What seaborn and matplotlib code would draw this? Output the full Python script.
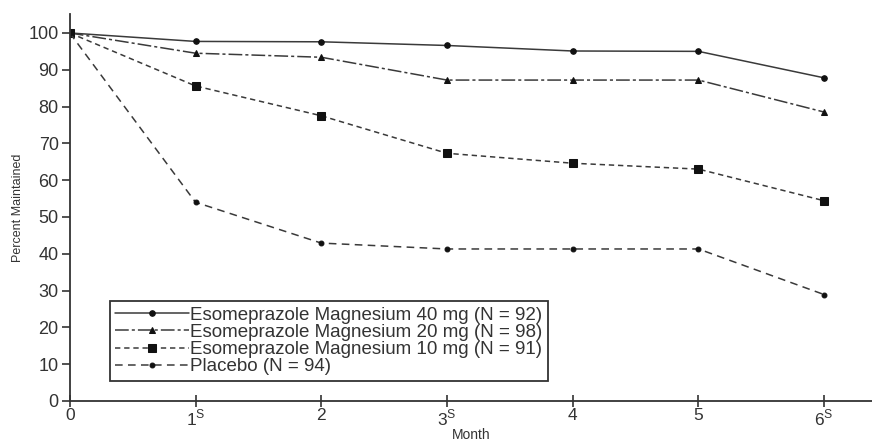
import pandas as pd
import matplotlib.pyplot as plt
import numpy as np
import seaborn as sns

months = [0, 1, 2, 3, 4, 5, 6]
tick_labels = ['0', r'1$^{\mathsf{S}}$', '2', r'3$^{\mathsf{S}}$', '4', '5', r'6$^{\mathsf{S}}$']

esom40 = [100, 97.7, 97.6, 96.6, 95.1, 95.0, 87.8]
esom20 = [100, 94.5, 93.4, 87.2, 87.2, 87.2, 78.5]
esom10 = [100, 85.6, 77.5, 67.3, 64.6, 63.0, 54.4]
placebo = [100, 54.0, 42.9, 41.3, 41.3, 41.3, 28.9]

labels = ['Esomeprazole Magnesium 40 mg (N = 92)',
          'Esomeprazole Magnesium 20 mg (N = 98)',
          'Esomeprazole Magnesium 10 mg (N = 91)',
          'Placebo (N = 94)']

sns.set_style('ticks')
plt.rcParams['font.family'] = ['Liberation Sans', 'DejaVu Sans']
plt.rcParams['mathtext.fontset'] = 'custom'
plt.rcParams['mathtext.sf'] = 'Liberation Sans'

fig = plt.figure(figsize=(8.72, 4.46), dpi=100)
ax = fig.add_axes([0.080, 0.101, 0.92, 0.868])

styles = [
    (esom40, '-', 'o', 4),
    (esom20, (0, (9, 2, 2, 2)), '^', 4.5),
    (esom10, (0, (3.5, 2.5)), 's', 6),
    (placebo, (0, (5, 3.5)), 'o', 3.5),
]

for lab, (vals, ls, mk, ms) in zip(labels, styles):
    df = pd.DataFrame({'Month': months, 'Percent': vals})
    sns.lineplot(data=df, x='Month', y='Percent', ax=ax, color='#3a3a3a',
                 linestyle=ls, marker=mk, markersize=ms, linewidth=1.1,
                 markerfacecolor='#111111', markeredgecolor='#111111',
                 label=lab)

ax.set_xlim(0, 6.38)
ax.set_ylim(0, 105.2)
ax.set_xticks(months)
ax.set_xticklabels(tick_labels, fontsize=12.5, color='#333333')
ax.set_yticks(range(0, 101, 10))
ax.set_yticklabels([str(v) for v in range(0, 101, 10)], fontsize=13, color='#333333')
ax.tick_params(axis='x', direction='inout', length=8, width=1.2, color='#333333', pad=1)
ax.tick_params(axis='y', direction='out', length=6, width=1.2, color='#333333', pad=2)
ax.set_xlabel('Month', fontsize=10, color='#333333', labelpad=0)
ax.set_ylabel('Percent Maintained', fontsize=9, color='#333333', labelpad=3)

sns.despine(ax=ax)
for side in ['left', 'bottom']:
    ax.spines[side].set_linewidth(1.3)
    ax.spines[side].set_color('#333333')

leg = ax.legend(loc='lower left', bbox_to_anchor=(0.05, 0.052), fontsize=13.5,
                handlelength=3.9, handletextpad=0.1, labelspacing=0.0,
                borderpad=0.3, borderaxespad=0, fancybox=False, frameon=True,
                framealpha=1)
leg.get_frame().set_edgecolor('#333333')
leg.get_frame().set_linewidth(1.3)
for t in leg.get_texts():
    t.set_color('#333333')

fig.savefig('out.png', dpi=100)
